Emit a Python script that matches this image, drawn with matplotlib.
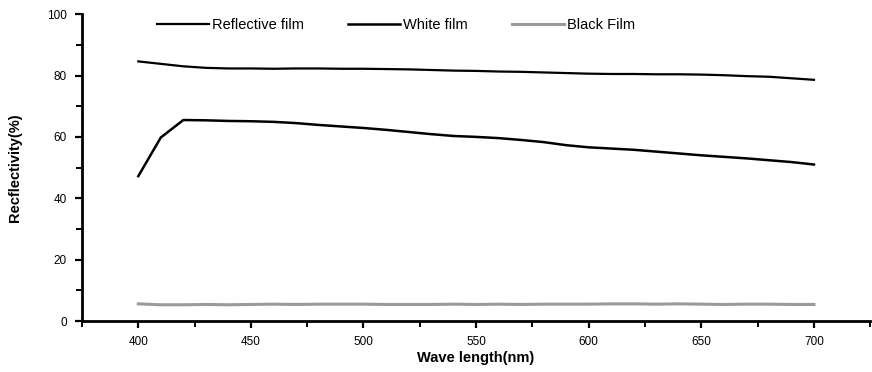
import matplotlib
matplotlib.use("Agg")
import matplotlib.pyplot as plt
from matplotlib.ticker import MultipleLocator

wavelength = [400, 410, 420, 430, 440, 450, 460, 470, 480, 490, 500,
              510, 520, 530, 540, 550, 560, 570, 580, 590, 600,
              610, 620, 630, 640, 650, 660, 670, 680, 690, 700]
reflective = [84.6, 83.8, 83.0, 82.5, 82.3, 82.3, 82.2, 82.3, 82.3, 82.2, 82.2,
              82.1, 82.0, 81.8, 81.6, 81.5, 81.3, 81.2, 81.0, 80.8, 80.6,
              80.5, 80.5, 80.4, 80.4, 80.3, 80.1, 79.8, 79.6, 79.1, 78.6]
white = [47.2, 59.8, 65.5, 65.4, 65.2, 65.1, 64.9, 64.5, 63.9, 63.4, 62.9,
         62.3, 61.6, 60.9, 60.3, 60.0, 59.6, 59.0, 58.3, 57.3, 56.6,
         56.2, 55.8, 55.2, 54.6, 54.0, 53.5, 53.0, 52.4, 51.8, 51.0]
black = [5.6, 5.3, 5.3, 5.4, 5.3, 5.4, 5.5, 5.4, 5.5, 5.5, 5.5,
         5.4, 5.4, 5.4, 5.5, 5.4, 5.5, 5.4, 5.5, 5.5, 5.5,
         5.6, 5.6, 5.5, 5.6, 5.5, 5.4, 5.5, 5.5, 5.4, 5.4]

series_labels = ["Reflective film", "White film", "Black Film"]
x_label = "Wave length(nm)"
y_label = "Recflectivity(%)"

plt.rcParams['font.family'] = ['Liberation Sans', 'DejaVu Sans']

fig = plt.figure(figsize=(8.72, 3.72), dpi=100)
ax = fig.add_axes([0.094, 0.137, 0.904, 0.825])

ax.plot(wavelength, reflective, color='black', lw=1.6, label=series_labels[0])
ax.plot(wavelength, white, color='black', lw=1.8, label=series_labels[1])
ax.plot(wavelength, black, color='#9a9a9a', lw=2.2, label=series_labels[2])

ax.set_xlim(375, 725)
ax.set_ylim(0, 100)
ax.xaxis.set_major_locator(MultipleLocator(50))
ax.xaxis.set_minor_locator(MultipleLocator(25))
ax.yaxis.set_major_locator(MultipleLocator(20))
ax.yaxis.set_minor_locator(MultipleLocator(10))

for s in ['top', 'right']:
    ax.spines[s].set_visible(False)
for s in ['left', 'bottom']:
    ax.spines[s].set_linewidth(2.0)

ax.tick_params(axis='both', which='major', direction='out', length=5, width=1.6,
               labelsize=8.5, pad=6)
ax.tick_params(axis='both', which='minor', direction='out', length=4, width=1.4)

ax.set_xlabel(x_label, fontsize=10.5, fontweight='bold', labelpad=2)
ax.set_ylabel(y_label, fontsize=10.5, fontweight='bold', labelpad=18)

ax.legend(loc='upper left', bbox_to_anchor=(0.078, 1.03), ncol=3, frameon=False,
          fontsize=10.5, handlelength=3.6, handletextpad=0.2, columnspacing=3.0)

fig.savefig("out.png", dpi=100)
